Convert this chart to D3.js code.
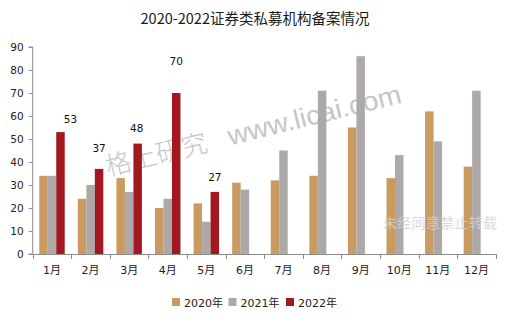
<!DOCTYPE html>
<html>
<head>
<meta charset="utf-8">
<script src="https://cdn.jsdelivr.net/npm/d3@7"></script>
<style>
  html, body { margin: 0; padding: 0; background: #fff; }
  svg { display: block; }
  text { font-family: "DejaVu Sans", "Noto Sans CJK SC", sans-serif; }
</style>
</head>
<body>
<svg id="chart" width="511" height="323"></svg>
<script>
// Monthly registrations of securities private fund managers
const months = ["1月", "2月", "3月", "4月", "5月", "6月", "7月", "8月", "9月", "10月", "11月", "12月"];
const seriesNames = ["2020年", "2021年", "2022年"];
const values2020 = [34, 24, 33, 20, 22, 31, 32, 34, 55, 33, 62, 38];
const values2021 = [34, 30, 27, 24, 14, 28, 45, 71, 86, 43, 49, 71];
const values2022 = [53, 37, 48, 70, 27];
const yTicks = [0, 10, 20, 30, 40, 50, 60, 70, 80, 90];

const colors = ["#C99B60", "#ADA9A9", "#A3181F"];
const seriesValues = [values2020, values2021, values2022];

const svg = d3.select("#chart");
const plotLeft = 32.7, plotRight = 495.7, plotTop = 47, plotBottom = 254;

const x = d3.scaleBand().domain(months).range([plotLeft, plotRight]).paddingInner(0.34).paddingOuter(0.17);
const xs = d3.scaleBand().domain(seriesNames).range([0, x.bandwidth()]);
const y = d3.scaleLinear().domain([0, 90]).range([plotBottom, plotTop]);

const axisColor = "#8C8C8C";

// Background watermark, drawn beneath the bars
const wm = svg.append("g")
  .attr("transform", "translate(108,176) rotate(-14)")
  .attr("fill", "#c6c6c6");
wm.append("text")
  .style("font-family", "'Noto Sans CJK SC', sans-serif")
  .style("font-size", "26px")
  .style("font-weight", 300)
  .text("格上研究");
wm.append("text")
  .attr("x", 126)
  .attr("textLength", 178)
  .attr("lengthAdjust", "spacingAndGlyphs")
  .style("font-family", "'Liberation Sans', sans-serif")
  .style("font-size", "27px")
  .text("www.licai.com");

// Title
svg.append("text")
  .attr("x", 255).attr("y", 24)
  .attr("text-anchor", "middle")
  .style("font-family", "'Noto Sans CJK SC', sans-serif")
  .style("font-size", "14.5px")
  .attr("fill", "#1a1a1a")
  .text("2020-2022证券类私募机构备案情况");

// Bars
const rows = [];
seriesValues.forEach((vals, si) => {
  vals.forEach((v, i) => rows.push({ month: months[i], series: seriesNames[si], si, v }));
});

svg.append("g").selectAll("rect")
  .data(rows)
  .join("rect")
  .attr("x", d => x(d.month) + xs(d.series))
  .attr("y", d => y(d.v))
  .attr("width", xs.bandwidth())
  .attr("height", d => y(0) - y(d.v))
  .attr("fill", d => colors[d.si]);

// Value labels on the 2022 bars (hand-placed offsets: [dx, lift above bar])
const labelOffsets = [[10, 13.5], [0, 21], [-1, 15.5], [0, 31.5], [0, 14.5]];
svg.append("g").selectAll("text")
  .data(values2022)
  .join("text")
  .attr("x", (v, i) => x(months[i]) + xs(seriesNames[2]) + xs.bandwidth() / 2 + labelOffsets[i][0])
  .attr("y", (v, i) => y(v) - labelOffsets[i][1] + 3.9)
  .attr("text-anchor", "middle")
  .style("font-size", "10.5px")
  .attr("fill", "#111")
  .text(v => v);

// Y axis
const yAxis = d3.axisLeft(y).tickValues(yTicks).tickSize(4).tickPadding(5);
const gy = svg.append("g").attr("transform", `translate(${plotLeft},0)`).call(yAxis);
gy.select(".domain").attr("stroke", axisColor).attr("d", `M-4,${plotTop}H0V${plotBottom}H-4`);
gy.selectAll(".tick line").attr("stroke", axisColor);
gy.selectAll(".tick text").style("font-size", "10.5px").attr("fill", "#222")
  .style("font-family", "'DejaVu Sans', sans-serif");

// X axis: baseline, boundary ticks and month labels
const gx = svg.append("g");
gx.append("line")
  .attr("x1", plotLeft).attr("x2", plotRight)
  .attr("y1", plotBottom + 0.5).attr("y2", plotBottom + 0.5)
  .attr("stroke", axisColor);
gx.selectAll("line.b")
  .data(d3.range(months.length + 1))
  .join("line")
  .attr("class", "b")
  .attr("x1", i => Math.round(x.range()[0] + i * x.step()) + 0.5)
  .attr("x2", i => Math.round(x.range()[0] + i * x.step()) + 0.5)
  .attr("y1", plotBottom).attr("y2", plotBottom + 5)
  .attr("stroke", axisColor);
gx.selectAll("text")
  .data(months)
  .join("text")
  .attr("x", d => x(d) + x.bandwidth() / 2)
  .attr("y", 274)
  .attr("text-anchor", "middle")
  .style("font-size", "11px")
  .attr("fill", "#222")
  .text(d => d);

// Legend
const legendX = [172, 228.5, 286];
const lg = svg.append("g").selectAll("g")
  .data(seriesNames)
  .join("g")
  .attr("transform", (d, i) => `translate(${legendX[i]},298)`);
lg.append("rect").attr("width", 8).attr("height", 8).attr("fill", (d, i) => colors[i]);
lg.append("text").attr("x", 12).attr("y", 8.5)
  .style("font-size", "11px").attr("fill", "#222").text(d => d);

// Foreground notice, semi-transparent over the bars
svg.append("text")
  .attr("x", 383).attr("y", 228)
  .attr("textLength", 114)
  .style("font-family", "'Noto Sans CJK SC', sans-serif")
  .style("font-size", "14px")
  .attr("fill", "#d2d2d2")
  .attr("fill-opacity", 0.85)
  .text("未经同意禁止转载");
</script>
</body>
</html>
